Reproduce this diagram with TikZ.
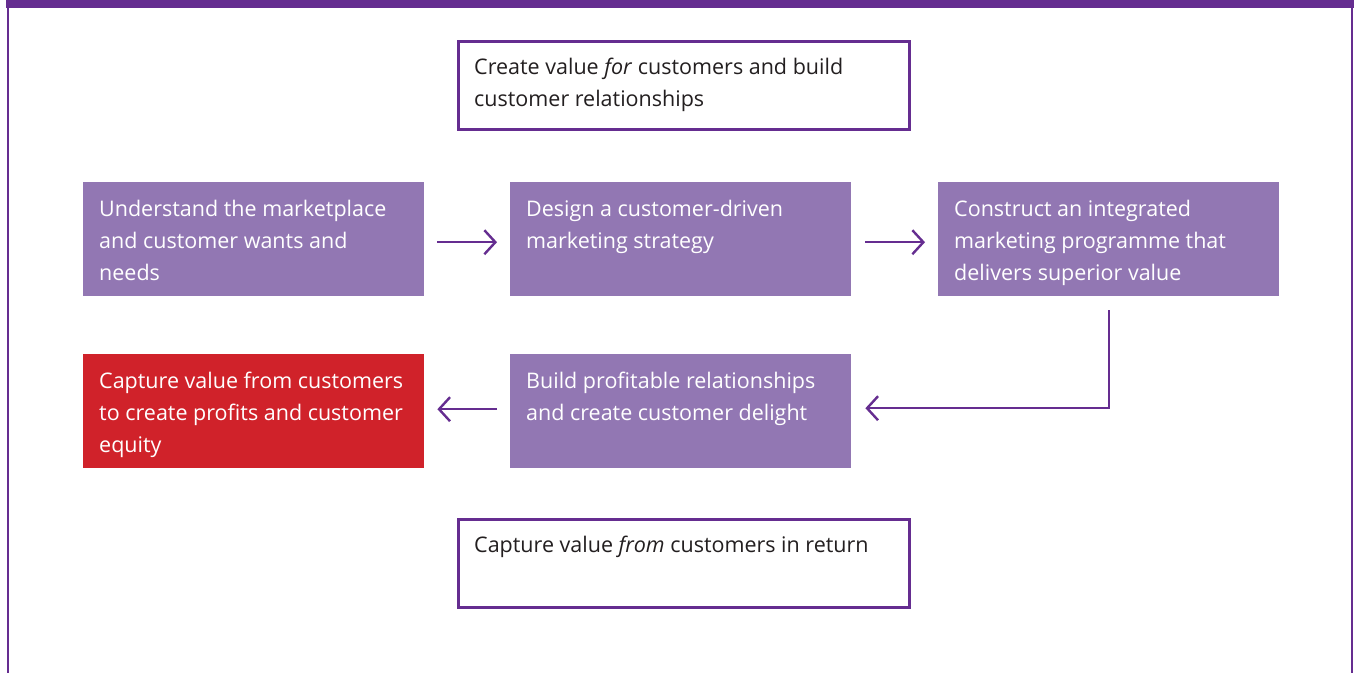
\documentclass[tikz,border=0pt]{standalone}
\usepackage{fontspec}
\setmainfont{Open Sans}
\usetikzlibrary{arrows.meta}
\definecolor{frame}{HTML}{652D90}
\definecolor{lilac}{HTML}{9277B3}
\definecolor{capred}{HTML}{D0222A}
\definecolor{ink}{HTML}{231F20}
\begin{document}
\begin{tikzpicture}[x=1pt,y=-1pt,
  wbox/.style={draw=frame,line width=2.5pt,fill=white,minimum width=451pt,minimum height=88pt,anchor=north west,inner sep=0pt},
  pbox/.style={fill=lilac,minimum width=341pt,minimum height=114pt,anchor=north west,inner sep=0pt},
  rbox/.style={fill=capred,minimum width=341pt,minimum height=114pt,anchor=north west,inner sep=0pt},
  txt/.style={anchor=north west,inner sep=0pt,align=left,font=\fontsize{21.5}{32}\selectfont},
  arr/.style={draw=frame,line width=2.4pt,-{Straight Barb[length=11pt,width=24pt,line width=2.4pt]}}
]
\useasboundingbox (0,0) rectangle (1354,673);
\fill[white] (0,0) rectangle (1354,673);
% frame
\fill[frame] (6,0) rectangle (1354,8);
\draw[frame,line width=1.8pt] (8,8) -- (8,673);
\draw[frame,line width=1.8pt] (1352,8) -- (1352,673);
% boxes
\node[wbox] (top) at (457,40) {};
\node[txt,text=ink] (toptxt) at ([xshift=17pt,yshift=-18pt]top.north west) {Create value \textit{for} customers and build\\customer relationships};
\node[pbox] (A) at (83,182) {};
\node[txt,text=white] (Atxt) at ([xshift=16pt,yshift=-18pt]A.north west) {Understand the marketplace\\and customer wants and\\needs};
\node[pbox] (B) at (510,182) {};
\node[txt,text=white] (Btxt) at ([xshift=16pt,yshift=-18pt]B.north west) {Design a customer-driven\\marketing strategy};
\node[pbox] (C) at (938,182) {};
\node[txt,text=white] (Ctxt) at ([xshift=16pt,yshift=-18pt]C.north west) {Construct an integrated\\marketing programme that\\delivers superior value};
\node[rbox] (R) at (83,354) {};
\node[txt,text=white] (Rtxt) at ([xshift=16pt,yshift=-18pt]R.north west) {Capture value from customers\\to create profits and customer\\equity};
\node[pbox] (D) at (510,354) {};
\node[txt,text=white] (Dtxt) at ([xshift=16pt,yshift=-18pt]D.north west) {Build profitable relationships\\and create customer delight};
\node[wbox] (bot) at (457,518) {};
\node[txt,text=ink] (bottxt) at ([xshift=17pt,yshift=-18pt]bot.north west) {Capture value \textit{from} customers in return};
% connectors
\draw[arr,shorten <=13pt,shorten >=13pt] ([yshift=-3pt]A.east) -- ([yshift=-3pt]B.west);
\draw[arr,shorten <=14pt,shorten >=13pt] ([yshift=-3pt]B.east) -- ([yshift=-3pt]C.west);
\draw[arr,shorten <=13pt,shorten >=13pt] ([yshift=2pt]D.west) -- ([yshift=2pt]R.east);
\draw[arr,shorten <=14pt,shorten >=14pt] (C.south) |- ([yshift=3pt]D.east);
\end{tikzpicture}
\end{document}
